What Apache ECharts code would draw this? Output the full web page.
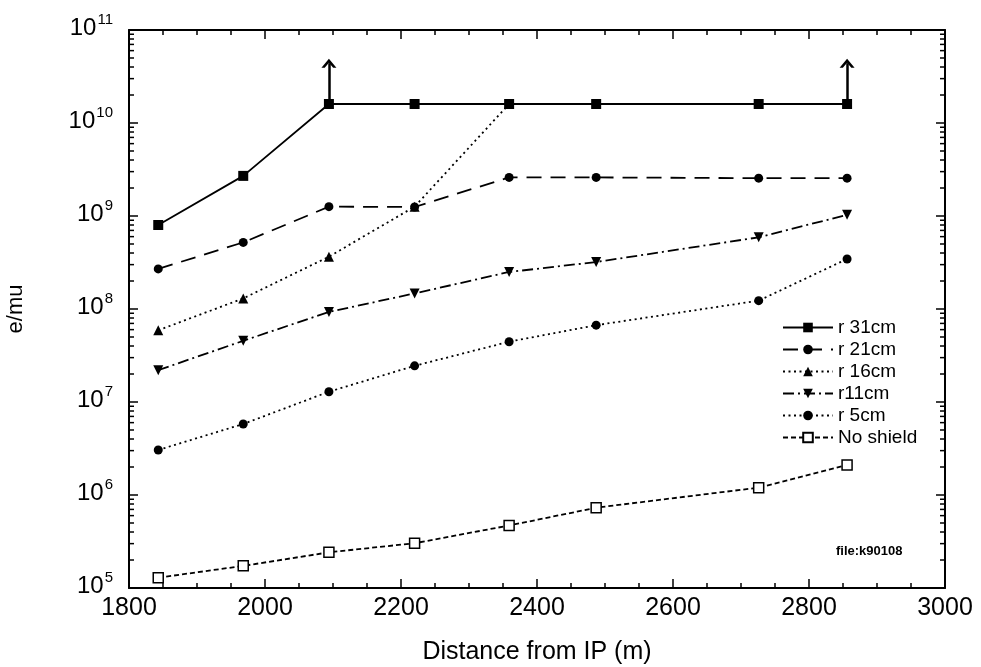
<!DOCTYPE html>
<html>
<head>
<meta charset="utf-8">
<title>e/mu vs distance</title>
<script src="https://cdn.jsdelivr.net/npm/echarts@6.0.0/dist/echarts.min.js"></script>
<style>
	html, body { margin: 0; padding: 0; background: #fff; }
	#chart { width: 981px; height: 667px; }
</style>
</head>
<body>
<div id="chart"></div>
<script>
	// 距离 (m)
	var distance = [1843, 1968, 2094, 2220, 2359, 2487, 2726, 2856];
	// 各屏蔽半径的 e/mu 值, null = 没有点
	var r31 = [8.0e8, 2.7e9, 1.6e10, 1.6e10, 1.6e10, 1.6e10, 1.6e10, 1.6e10];
	var r21 = [2.7e8, 5.2e8, 1.26e9, 1.25e9, 2.6e9, 2.6e9, 2.55e9, 2.55e9];
	var r16 = [5.9e7, 1.3e8, 3.65e8, 1.26e9, 1.6e10, null, null, null];
	var r11 = [2.2e7, 4.55e7, 9.3e7, 1.47e8, 2.5e8, 3.2e8, 5.9e8, 1.03e9];
	var r5 = [3.05e6, 5.8e6, 1.29e7, 2.45e7, 4.45e7, 6.7e7, 1.23e8, 3.45e8];
	var noShield = [1.29e5, 1.73e5, 2.42e5, 3.03e5, 4.7e5, 7.3e5, 1.2e6, 2.1e6];
	// 下限箭头 (r 31cm)
	var arrowX = [2094, 2856];
	var arrowTop = 4.4e10;
	var legendNames = ['r 31cm', 'r 21cm', 'r 16cm', 'r11cm', 'r 5cm', 'No shield'];

	var font = '"Liberation Sans", Arial, Helvetica, sans-serif';

	function pairs(vals) {
		var out = [];
		for (var i = 0; i < distance.length; i++) {
			if (vals[i] != null) out.push([distance[i], vals[i]]);
		}
		return out;
	}

	// 对数轴的次刻度 2..9 x 10^k
	var minorY = [];
	for (var k = 5; k < 11; k++) {
		for (var m = 2; m < 10; m++) minorY.push([1800, m * Math.pow(10, k)]);
	}

	var arrowLines = arrowX.map(function (x) {
		return [{ coord: [x, r31[distance.indexOf(x)]] }, { coord: [x, arrowTop] }];
	});

	var dom = document.getElementById('chart');
	var myChart = echarts.init(dom);

	function lineStyle(type) {
		return { color: '#000', width: 1.8, type: type };
	}

	var option = {
		animation: false,
		backgroundColor: '#fff',
		grid: { left: 129, right: 36, top: 30, bottom: 79, containLabel: false, outerBoundsMode: 'none' },
		legend: {
			data: legendNames,
			orient: 'vertical',
			left: 777,
			top: 313,
			itemWidth: 50,
			itemHeight: 12,
			itemGap: 3,
			textStyle: { fontFamily: font, fontSize: 19, color: '#000' },
			selectedMode: false
		},
		graphic: [{
			type: 'text',
			left: 836,
			top: 545,
			style: { text: 'file:k90108', font: 'bold 13px ' + font, fill: '#000' }
		}],
		xAxis: [{
			type: 'value',
			min: 1800, max: 3000, interval: 200,
			name: 'Distance from IP (m)',
			nameLocation: 'middle',
			nameGap: 52,
			nameTextStyle: { fontFamily: font, fontSize: 25, color: '#000' },
			axisLine: { lineStyle: { color: '#000', width: 2 } },
			axisTick: { inside: true, length: 9, lineStyle: { color: '#000', width: 1.5 } },
			minorTick: { show: true, splitNumber: 4, length: 5, lineStyle: { color: '#000', width: 1.5 } },
			axisLabel: {
				fontFamily: font, fontSize: 25, color: '#000', margin: 8,
				formatter: function (v) { return String(v); }
			},
			splitLine: { show: false }
		}, {
			type: 'value',
			position: 'top',
			min: 1800, max: 3000, interval: 200,
			axisLine: { lineStyle: { color: '#000', width: 2 } },
			axisTick: { inside: true, length: 9, lineStyle: { color: '#000', width: 1.5 } },
			minorTick: { show: true, splitNumber: 4, length: 5, lineStyle: { color: '#000', width: 1.5 } },
			axisLabel: { show: false },
			splitLine: { show: false }
		}],
		yAxis: [{
			type: 'log',
			logBase: 10,
			min: 1e5, max: 1e11,
			splitNumber: 6,
			name: 'e/mu',
			nameLocation: 'middle',
			nameRotate: 90,
			nameGap: 102,
			nameTextStyle: { fontFamily: font, fontSize: 22, color: '#000' },
			axisLine: { lineStyle: { color: '#000', width: 2 } },
			axisTick: { inside: true, length: 9, lineStyle: { color: '#000', width: 1.5 } },
			axisLabel: {
				margin: 16,
				formatter: function (v) {
					return '{b|10}{s|' + Math.round(Math.log10(v)) + '}';
				},
				rich: {
					b: { fontFamily: font, fontSize: 24, color: '#000', lineHeight: 31 },
					s: { fontFamily: font, fontSize: 15, color: '#000', lineHeight: 15, verticalAlign: 'top', padding: [0, 0, 0, 1] }
				},
				padding: [0, 0, 4, 0]
			},
			splitLine: { show: false }
		}, {
			type: 'log',
			logBase: 10,
			position: 'right',
			min: 1e5, max: 1e11,
			splitNumber: 6,
			axisLine: { lineStyle: { color: '#000', width: 2 } },
			axisTick: { inside: true, length: 9, lineStyle: { color: '#000', width: 1.5 } },
			axisLabel: { show: false },
			splitLine: { show: false }
		}],
		series: [
			{
				name: 'r 31cm', type: 'line', z: 5,
				data: pairs(r31),
				symbol: 'rect', symbolSize: 10,
				itemStyle: { color: '#000' },
				lineStyle: lineStyle('solid'),
				markLine: {
					silent: true,
					symbol: ['none', 'path://M0,10 L8,0 L16,10 L12.5,10 L8,4.5 L3.5,10 Z'],
					symbolSize: [15, 9],
					label: { show: false },
					lineStyle: { color: '#000', width: 2.5, type: 'solid' },
					data: arrowLines
				}
			},
			{
				name: 'r 21cm', type: 'line', z: 4,
				data: pairs(r21),
				symbol: 'circle', symbolSize: 9,
				itemStyle: { color: '#000' },
				lineStyle: lineStyle([15, 9])
			},
			{
				name: 'r 16cm', type: 'line', z: 3,
				data: pairs(r16),
				symbol: 'triangle', symbolSize: 10,
				itemStyle: { color: '#000' },
				lineStyle: lineStyle([2, 3.5])
			},
			{
				name: 'r11cm', type: 'line', z: 3,
				data: pairs(r11),
				symbol: 'triangle', symbolRotate: 180, symbolSize: 10,
				itemStyle: { color: '#000' },
				lineStyle: lineStyle([11, 4, 2, 4])
			},
			{
				name: 'r 5cm', type: 'line', z: 3,
				data: pairs(r5),
				symbol: 'circle', symbolSize: 9,
				itemStyle: { color: '#000' },
				lineStyle: lineStyle([2, 3.5])
			},
			{
				name: 'No shield', type: 'line', z: 3,
				data: pairs(noShield),
				symbol: 'rect', symbolSize: 10,
				itemStyle: { color: '#fff', borderColor: '#000', borderWidth: 1.5 },
				lineStyle: lineStyle([5, 3])
			},
			{
				// 左右两侧的对数次刻度
				type: 'custom', silent: true, z: 1,
				data: minorY,
				renderItem: function (params, api) {
					var v = api.value(1);
					var l = api.coord([1800, v]);
					var r = api.coord([3000, v]);
					var st = { stroke: '#000', lineWidth: 1.5 };
					return {
						type: 'group',
						children: [
							{ type: 'line', shape: { x1: l[0], y1: l[1], x2: l[0] + 5, y2: l[1] }, style: st },
							{ type: 'line', shape: { x1: r[0] - 5, y1: r[1], x2: r[0], y2: r[1] }, style: st }
						]
					};
				}
			}
		]
	};
	myChart.setOption(option, true);
</script>
</body>
</html>
